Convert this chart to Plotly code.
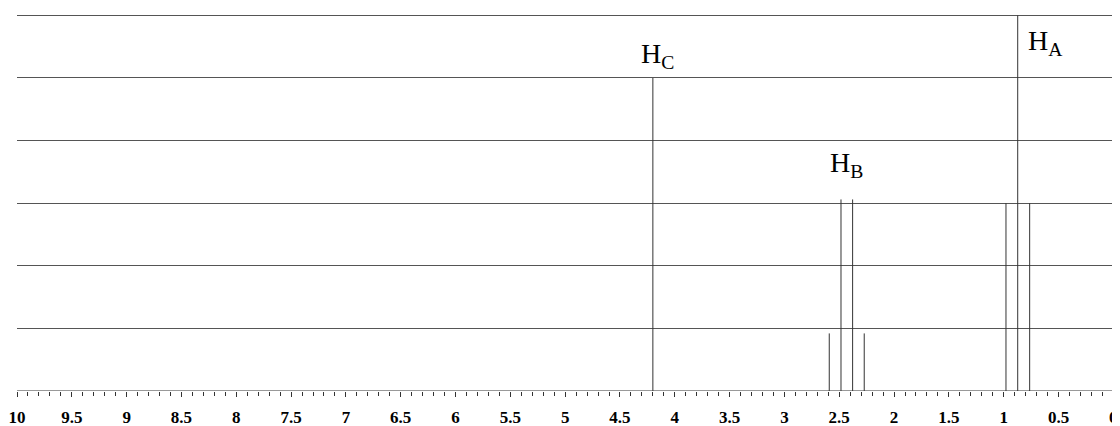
import plotly.graph_objects as go

# Peak positions (ppm) and intensities
peak_ppm = [4.20, 2.591, 2.484, 2.378, 2.272, 0.979, 0.872, 0.763]
peak_height = [5.0, 0.92, 3.06, 3.06, 0.92, 3.0, 6.0, 3.0]

# Labels for signal groups
label_text = ["H<sub>C</sub>", "H<sub>B</sub>", "H<sub>A</sub>"]
label_x = [4.33, 2.60, 0.80]
label_y = [5.04, 3.30, 5.25]

# Axis ticks
tick_vals = [10, 9.5, 9, 8.5, 8, 7.5, 7, 6.5, 6, 5.5, 5, 4.5, 4, 3.5, 3, 2.5, 2, 1.5, 1, 0.5, 0]
tick_text = ["10", "9.5", "9", "8.5", "8", "7.5", "7", "6.5", "6", "5.5", "5", "4.5", "4", "3.5", "3", "2.5", "2", "1.5", "1", "0.5", "0"]
grid_levels = [1, 2, 3, 4, 5, 6]

xs, ys = [], []
for p, h in zip(peak_ppm, peak_height):
    xs += [p, p, None]
    ys += [0, h, None]

fig = go.Figure()
fig.add_trace(go.Scatter(x=xs, y=ys, mode="lines",
                         line=dict(color="#333333", width=1),
                         hoverinfo="skip", showlegend=False))

for t, x, y in zip(label_text, label_x, label_y):
    fig.add_annotation(x=x, y=y, text=t, showarrow=False,
                       xanchor="left", yanchor="bottom",
                       font=dict(family="Liberation Serif", size=28, color="black"))

# baseline axis line from 10 to 0
fig.add_shape(type="line", xref="x", yref="y", x0=tick_vals[0], x1=tick_vals[-1], y0=0, y1=0,
              line=dict(color="#333333", width=1))

fig.update_layout(
    width=1112, height=418,
    margin=dict(l=9, r=0, t=0, b=35),
    paper_bgcolor="white", plot_bgcolor="white",
    showlegend=False,
    xaxis=dict(range=[10, -0.061], showgrid=False, zeroline=False, showline=False,
               tickmode="array", tickvals=tick_vals, ticktext=tick_text,
               ticks="outside", ticklen=5, tickwidth=1, tickcolor="#333333",
               ticklabelstandoff=6,
               tickfont=dict(family="Liberation Serif", size=17, color="black", weight="bold"),
               minor=dict(dtick=0.1, tick0=0, ticks="outside", ticklen=4, tickwidth=1,
                          tickcolor="#333333", showgrid=False)),
    yaxis=dict(range=[0, 6.118], showgrid=True, gridcolor="#555555", gridwidth=1,
               tickmode="array", tickvals=grid_levels, showticklabels=False,
               zeroline=False, showline=False, ticks=""),
)

fig.write_html("out.html")
